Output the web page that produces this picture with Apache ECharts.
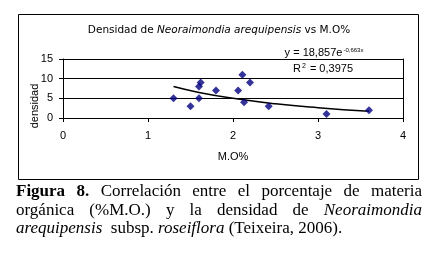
<!DOCTYPE html>
<html>
<head>
<meta charset="utf-8" />
<title>Densidad vs M.O%</title>
<script src="https://cdn.jsdelivr.net/npm/echarts@6/dist/echarts.min.js"></script>
<style>
	body { margin: 0; background: #fff; }
	#wrap { position: relative; width: 441px; height: 256px; }
	#chart { position: absolute; left: 0; top: 0; width: 441px; height: 256px; }
	#caption {
		position: absolute; left: 16px; top: 182px; width: 406px;
		font-family: "Liberation Serif", "DejaVu Serif", serif;
		font-size: 17px; line-height: 18.5px; color: #000;
		text-align: justify;
	}
</style>
</head>
<body>
<div id="wrap">
	<div id="chart"></div>
	<div id="caption"><b>Figura 8.</b> Correlación entre el porcentaje de materia orgánica (%M.O.) y la densidad de <i>Neoraimondia arequipensis</i>&nbsp; subsp. <i>roseiflora</i> (Teixeira, 2006).</div>
</div>
<script type="text/javascript">
	// puntos: M.O% y densidad
	var mo = [1.3, 1.5, 1.6, 1.6, 1.62, 1.8, 2.06, 2.11, 2.13, 2.2, 2.42, 3.1, 3.6];
	var densidad = [5, 3, 5, 8, 9, 7, 7, 11, 4, 9, 3, 1, 2];
	var trendX = [1.3, 1.6, 2.0, 2.5, 3.0, 3.6];
	var trendY = [8.0, 6.5, 5.0, 3.6, 2.6, 1.7];
	var xTicks = [0, 1, 2, 3, 4];
	var yTicks = [0, 5, 10, 15];

	var pts = mo.map(function (x, i) { return [x, densidad[i]]; });
	var trend = trendX.map(function (x, i) { return [x, trendY[i]]; });
	var fnt = '"Liberation Sans Narrow", "Liberation Sans", Arial, sans-serif';
	var tfnt = '"DejaVu Sans", sans-serif';

	var chart = echarts.init(document.getElementById('chart'), null, { renderer: 'canvas' });
	chart.setOption({
		animation: false,
		title: {
			text: 'Densidad de {i|Neoraimondia arequipensis} vs M.O%',
			left: 214,
			textAlign: 'center',
			top: 20,
			textStyle: {
				fontFamily: tfnt, fontSize: 10.5, fontWeight: 'normal', color: '#000',
				rich: { i: { fontFamily: tfnt, fontSize: 10.5, fontStyle: 'italic', color: '#000' } }
			}
		},
		grid: { left: 63, right: 38, top: 59, bottom: 138 },
		xAxis: {
			type: 'value', min: xTicks[0], max: xTicks[xTicks.length - 1], interval: 1,
			name: 'M.O%', nameLocation: 'middle', nameGap: 33,
			nameTextStyle: { fontFamily: fnt, fontSize: 11, color: '#000' },
			axisLine: { lineStyle: { color: '#000', width: 1 } },
			axisTick: { show: true, length: 4, lineStyle: { color: '#000' } },
			axisLabel: { fontFamily: fnt, fontSize: 11, color: '#000', margin: 12 },
			splitLine: { show: false }
		},
		yAxis: [{
			type: 'value', min: yTicks[0], max: yTicks[yTicks.length - 1], interval: 5,
			axisLine: { show: true, lineStyle: { color: '#000', width: 1 } },
			axisTick: { show: true, length: 4, lineStyle: { color: '#000' } },
			axisLabel: { fontFamily: fnt, fontSize: 11, color: '#000', margin: 10 },
			splitLine: { show: true, lineStyle: { color: '#000', width: 1 } }
		}, {
			type: 'value', min: 0, max: 15, position: 'right',
			axisLine: { show: true, lineStyle: { color: '#000', width: 1 } },
			axisTick: { show: false }, axisLabel: { show: false }, splitLine: { show: false }
		}],
		graphic: [
			{
				type: 'rect', left: 16, top: 12, z: -1,
				shape: { width: 400, height: 165 },
				style: { fill: 'none', stroke: '#000', lineWidth: 1 }
			},
			{
				type: 'text', x: 35, y: 106, rotation: Math.PI / 2,
				style: {
					text: 'densidad', fontFamily: fnt, fontSize: 11, fill: '#000',
					align: 'center', verticalAlign: 'middle'
				}
			},
			{
				type: 'text', x: 324, y: 53,
				style: {
					text: 'y = 18,857e{s|-0,663x}', fontFamily: fnt, fontSize: 11, fill: '#000',
					align: 'center', verticalAlign: 'middle',
					rich: { s: { fontFamily: fnt, fontSize: 6, verticalAlign: 'top', fill: '#000', padding: [0, 0, 5, 1] } }
				}
			},
			{
				type: 'text', x: 323, y: 69,
				style: {
					text: 'R{s|2} = 0,3975', fontFamily: fnt, fontSize: 11, fill: '#000',
					align: 'center', verticalAlign: 'middle',
					rich: { s: { fontFamily: fnt, fontSize: 7, verticalAlign: 'top', fill: '#000', padding: [0, 1, 5, 1] } }
				}
			}
		],
		series: [
			{
				name: 'tendencia', type: 'line', data: trend, smooth: true,
				showSymbol: false, lineStyle: { color: '#000', width: 1.5 }, z: 2
			},
			{
				name: 'densidad', type: 'scatter', data: pts,
				symbol: 'diamond', symbolSize: 8,
				itemStyle: { color: '#000080' }, z: 3
			}
		]
	});
</script>
</body>
</html>
